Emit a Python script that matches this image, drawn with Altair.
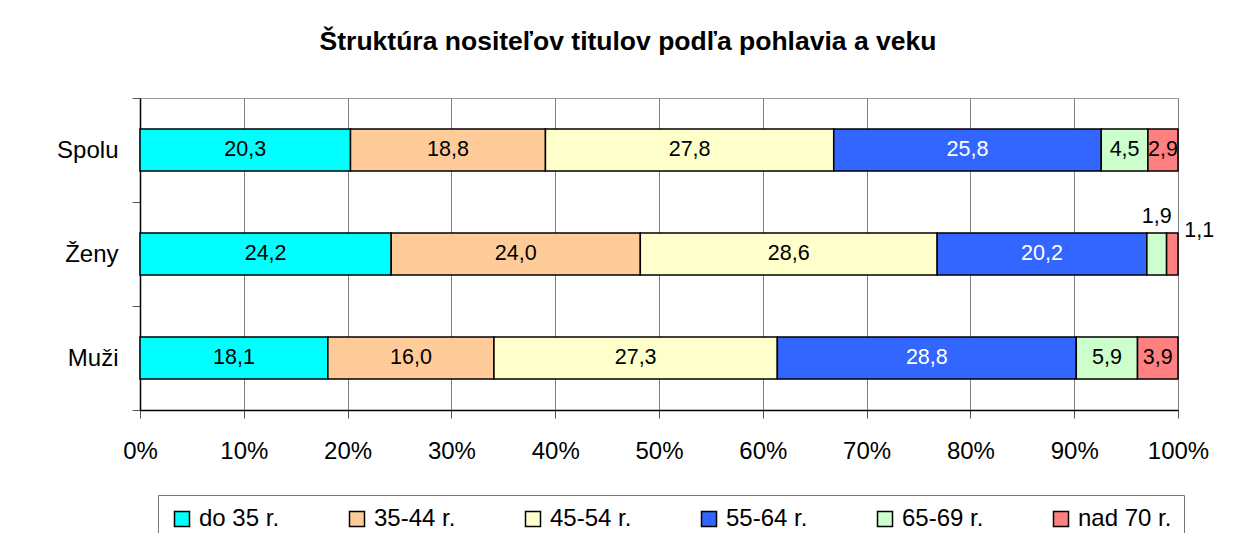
import altair as alt
import pandas as pd

groups = ["Spolu", "Ženy", "Muži"]
ages = ["do 35 r.", "35-44 r.", "45-54 r.", "55-64 r.", "65-69 r.", "nad 70 r."]
colors = ["#00FFFF", "#FFCC99", "#FFFFCC", "#3366FF", "#CCFFCC", "#FF8080"]
spolu = [20.3, 18.8, 27.8, 25.8, 4.5, 2.9]
zeny = [24.2, 24.0, 28.6, 20.2, 1.9, 1.1]
muzi = [18.1, 16.0, 27.3, 28.8, 5.9, 3.9]
x_ticks = [0, 0.1, 0.2, 0.3, 0.4, 0.5, 0.6, 0.7, 0.8, 0.9, 1.0]
title_text = "Štruktúra nositeľov titulov podľa pohlavia a veku"

rows = []
for g, vals in zip(groups, [spolu, zeny, muzi]):
    total = sum(vals)
    cum = 0.0
    for a, v in zip(ages, vals):
        rows.append({
            "skupina": g,
            "vek": a,
            "hodnota": v,
            "x0": cum / total,
            "x1": (cum + v) / total,
            "xm": (cum + v / 2) / total,
            "label": f"{v:.1f}".replace(".", ","),
        })
        cum += v
df = pd.DataFrame(rows)

FONT = "Liberation Sans"

y_enc = alt.Y(
    "skupina:N",
    sort=groups,
    scale=alt.Scale(paddingInner=0, paddingOuter=0),
    axis=alt.Axis(
        title=None, tickBand="extent", labelFontSize=24, labelPadding=14,
        tickSize=8, domainColor="#000000", tickColor="#555555",
        labelColor="#000000", labelFont=FONT, domainWidth=1.5,
    ),
)

base = alt.Chart(df)

bars = base.mark_bar(height=42, stroke="#000000", strokeWidth=1.5).encode(
    x=alt.X(
        "x0:Q",
        scale=alt.Scale(domain=[0, 1], nice=False),
        axis=alt.Axis(
            values=x_ticks, format=".0%", grid=True, gridColor="#808080",
            gridWidth=1, tickSize=8, tickColor="#555555", labelFontSize=24,
            labelPadding=21, title=None, domainColor="#000000", domainWidth=1.5,
            labelColor="#000000", labelFont=FONT, labelFlush=False,
        ),
    ),
    x2="x1:Q",
    y=y_enc,
    color=alt.Color(
        "vek:N",
        scale=alt.Scale(domain=ages, range=colors),
        legend=alt.Legend(
            title=None, orient="none", legendX=18, legendY=397,
            direction="horizontal", symbolType="square", symbolSize=225,
            symbolStrokeColor="#000000", symbolStrokeWidth=1.5,
            labelFontSize=24, labelFont=FONT, labelColor="#000000",
            labelOffset=5, columnPadding=65, padding=12,
            strokeColor="#777777", fillColor="#FFFFFF",
        ),
    ),
)

txt_color = alt.condition(
    alt.datum.vek == "55-64 r.", alt.value("#FFFFFF"), alt.value("#000000")
)

labels_in = base.mark_text(fontSize=21.5, font=FONT).encode(
    x=alt.X("xm:Q"),
    y=alt.Y("skupina:N", sort=groups),
    text="label:N",
    color=txt_color,
).transform_filter(
    "!(datum.skupina == 'Ženy' && datum.hodnota < 2.5)"
)

label_above = base.mark_text(fontSize=21.5, font=FONT, dy=-37).encode(
    x=alt.X("xm:Q"),
    y=alt.Y("skupina:N", sort=groups),
    text="label:N",
    color=alt.value("#000000"),
).transform_filter(
    "datum.skupina == 'Ženy' && datum.vek == '65-69 r.'"
)

label_right = base.mark_text(fontSize=21.5, font=FONT, dx=27, dy=-23).encode(
    x=alt.X("xm:Q"),
    y=alt.Y("skupina:N", sort=groups),
    text="label:N",
    color=alt.value("#000000"),
).transform_filter(
    "datum.skupina == 'Ženy' && datum.vek == 'nad 70 r.'"
)

chart = alt.layer(bars, labels_in, label_above, label_right).properties(
    width=1038,
    height=312,
    title=alt.TitleParams(
        title_text, fontSize=26.5, fontWeight="bold", font=FONT,
        anchor="middle", dx=-31, offset=31, color="#000000",
    ),
    autosize=alt.AutoSizeParams(type="none"),
    padding={"left": 132, "top": 90, "right": 48, "bottom": 123},
).configure_view(stroke="#999999", strokeWidth=1)

chart.save("out.html", embed_options={"renderer": "svg", "actions": False})
